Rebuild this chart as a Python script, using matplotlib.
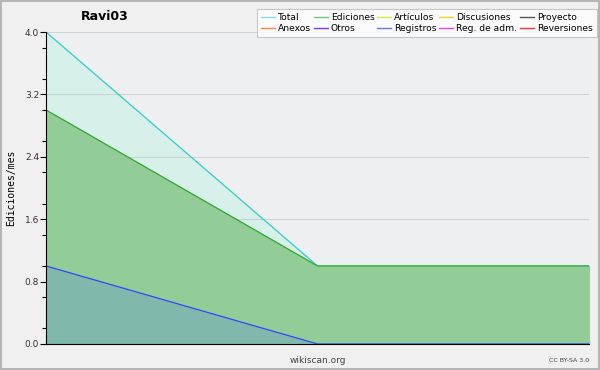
import matplotlib.pyplot as plt
from matplotlib.lines import Line2D
import numpy as np

meses = [0, 1, 2]
total = [4, 1, 1]
ediciones = [3, 1, 1]
registros = [1, 0, 0]

nombres = ['Total', 'Ediciones', 'Artículos', 'Discusiones', 'Proyecto',
           'Anexos', 'Otros', 'Registros', 'Reg. de adm.', 'Reversiones']
colores = ['#88dddd', '#66cc77', '#ccee44', '#ffcc33', '#555555',
           '#ff8844', '#8833ee', '#6677ff', '#dd44ee', '#ff3333']

fig = plt.figure(figsize=(6, 3.7), dpi=100, facecolor='#f0f0f0')
fig.patches.append(plt.Rectangle((0.001, 0.002), 0.997, 0.996, transform=fig.transFigure,
                                 fill=False, edgecolor='#aaaaaa', lw=1.2))
ax = fig.add_axes([0.0767, 0.0703, 0.905, 0.8432], facecolor='#eeeff1')

ax.fill_between(meses, total, color='#d8f0ea', zorder=1)
ax.plot(meses, total, color='#33cccc', lw=0.9, zorder=2)
ax.fill_between(meses, ediciones, color='#92cc96', zorder=3)
ax.plot(meses, ediciones, color='#33aa33', lw=0.9, zorder=4)
ax.fill_between(meses, registros, color='#6fa8c0', alpha=0.5, lw=0, zorder=5)
ax.plot(meses, registros, color='#3344ff', lw=0.9, zorder=6)

ax.set_xlim(0, 2)
ax.set_ylim(0, 4)
ax.set_yticks(np.arange(0, 4.01, 0.8))
ax.set_yticklabels(['%.1f' % v for v in np.arange(0, 4.01, 0.8)])
ax.set_yticks(np.arange(0.2, 4.0, 0.4), minor=True)
ax.set_xticks(meses)
ax.set_xticklabels([])
ax.grid(axis='y', color='#999999', alpha=0.35, lw=0.7, zorder=7)
ax.set_axisbelow(False)
for s in ['top', 'right']:
    ax.spines[s].set_visible(False)
ax.spines['left'].set_zorder(10)
ax.spines['bottom'].set_zorder(10)
ax.tick_params(axis='y', labelsize=6.5, length=4, width=0.8, colors='black', labelcolor='#333333', pad=1)
ax.tick_params(axis='y', which='minor', length=3, width=0.8)
ax.tick_params(axis='x', length=3, width=0.8, direction='in')
ax.set_ylabel('Ediciones/mes', fontsize=7, family='DejaVu Sans Mono', labelpad=6)
ax.set_xlabel('wikiscan.org', fontsize=6.5, color='#444444', labelpad=5)

fig.text(0.175, 0.955, 'Ravi03', fontsize=9, fontweight='bold', ha='center', va='center')
fig.text(0.982, 0.025, 'CC BY-SA 3.0', fontsize=4.5, color='#444444', ha='right', va='center')

orden = [0, 5, 1, 6, 2, 7, 3, 8, 4, 9]
handles = [Line2D([0], [0], color=colores[i], lw=1) for i in orden]
labels = [nombres[i] for i in orden]
leg = fig.legend(handles, labels, ncol=5, loc='upper right', bbox_to_anchor=(0.995, 0.975),
                 fontsize=6.6, frameon=True, fancybox=False, handlelength=1.5, handletextpad=0.35,
                 columnspacing=0.3, labelspacing=0.2, borderpad=0.45, borderaxespad=0)
leg.get_frame().set_edgecolor('#bbbbbb')
leg.get_frame().set_facecolor('#ffffff')
leg.get_frame().set_linewidth(0.8)

fig.savefig('out.png', dpi=100, facecolor=fig.get_facecolor())
